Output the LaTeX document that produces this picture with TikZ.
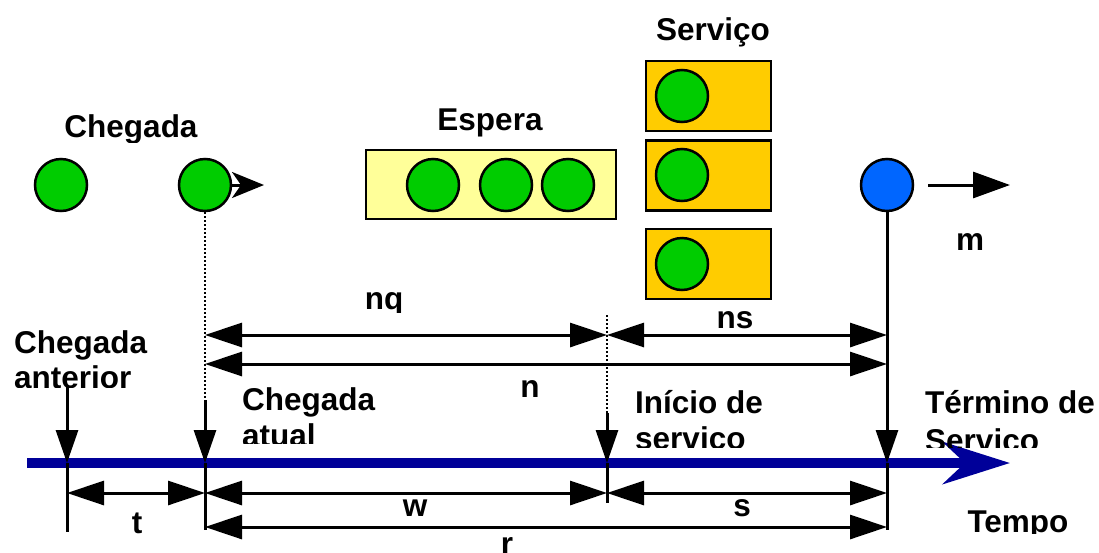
\documentclass[tikz,border=0pt]{standalone}
\usepackage{fontspec}
\setmainfont{Liberation Sans}
\usetikzlibrary{arrows.meta}
\definecolor{ballgreen}{RGB}{0,204,0}
\definecolor{ballblue}{RGB}{0,102,255}
\definecolor{queueyellow}{RGB}{255,255,153}
\definecolor{servyellow}{RGB}{255,204,0}
\definecolor{axisblue}{RGB}{0,0,153}
\begin{document}
\begin{tikzpicture}[x=1pt,y=-1pt,
  lbl/.style={font=\fontsize{31.5}{38}\bfseries\selectfont, inner sep=0pt},
  ball/.style={circle, draw, line width=2.5pt, fill=ballgreen, minimum size=52pt, inner sep=0pt},
  dim/.style={line width=3pt, {Triangle[length=37pt,width=24pt]}-{Triangle[length=37pt,width=24pt]}},
  tickline/.style={line width=3pt},
  downarrow/.style={line width=3pt, -{Triangle[length=33pt,width=22pt]}},
  dotline/.style={line width=2pt, dotted},
  qbox/.style={draw, line width=1.5pt, fill=queueyellow, minimum width=250pt, minimum height=69pt, inner sep=0pt},
  sbox/.style={draw, line width=2.5pt, fill=servyellow, minimum width=125pt, minimum height=70pt, inner sep=0pt}]
\useasboundingbox (0,0) rectangle (1099,552);

% --- Titles
\begin{scope}\clip (0,0) rectangle (1099,142);
  \node[lbl, anchor=base] (tCheg) at (131,137) {Chegada};
\end{scope}
\node[lbl, anchor=base] (tEsp) at (490,130) {Espera};
\node[lbl, anchor=base] (tServ) at (713,40) {Serviço};

% --- Arrivals
\node[ball] (c1) at (61,185) {};
\node[ball] (c2) at (205,185) {};
\coordinate (c2tip) at (264,185);
\draw[line width=3pt, -{Stealth[length=32pt,width=26pt,inset=9pt]}] (c2.east) -- (c2tip);

% --- Queue
\node[qbox] (fila) at (491,184.5) {};
\node[ball] (q1) at (433,185) {};
\node[ball] (q2) at (506,185) {};
\node[ball] (q3) at (568,185) {};

% --- Service
\node[sbox] (s1) at (708.5,96) {};
\node[sbox] (s2) at (708.5,175.5) {};
\node[sbox] (s3) at (708.5,264) {};
\node[ball] (b1) at (682,96) {};
\node[ball] (b2) at (682,175) {};
\node[ball] (b3) at (682,264) {};

% --- Departure
\node[ball, fill=ballblue] (cb) at (887,185) {};
\coordinate (mstart) at (928,185);
\coordinate (mend) at (1010,185);
\draw[line width=3pt, -{Triangle[length=37pt,width=26pt]}] (mstart) -- (mend);
\node[lbl, anchor=base] (tm) at (970,250) {m};

% --- Time axis
\coordinate (ax0) at (27,463);
\coordinate (ax1) at (1010,463);
\draw[axisblue, line width=10pt, -{Stealth[length=67pt,width=42pt,inset=22pt]}] (ax0) -- (ax1);

% vertical coordinates
\coordinate (vA0) at (67,385);  \coordinate (vA1) at (67,463);  \coordinate (vA2) at (67,532);
\coordinate (vB0) at (205,400); \coordinate (vB1) at (205,463); \coordinate (vB2) at (205,530);
\coordinate (vC) at (607,315);  \coordinate (vC0) at (607,413); \coordinate (vC1) at (607,463); \coordinate (vC2) at (607,503);
\coordinate (vD1) at (887,463); \coordinate (vD2) at (887,530);

% verticals
\draw[downarrow] (vA0) -- (vA1);
\draw[tickline] (vA1) -- (vA2);
\draw[dotline] (c2.south) -- (vB0);
\draw[downarrow] (vB0) -- (vB1);
\draw[tickline] (vB1) -- (vB2);
\draw[dotline] (vC) -- (vC0);
\draw[downarrow] (vC0) -- (vC1);
\draw[tickline] (vC1) -- (vC2);
\draw[downarrow] (cb.south) -- (vD1);
\draw[tickline] (vD1) -- (vD2);

% dimension lines
\coordinate (nq0) at (205,335); \coordinate (nq1) at (607,335); \coordinate (nq2) at (887,335);
\coordinate (n0) at (205,364);  \coordinate (n1) at (887,364);
\coordinate (w0) at (67,493); \coordinate (w1) at (205,493); \coordinate (w2) at (607,493); \coordinate (w3) at (887,493);
\coordinate (r0) at (205,527);  \coordinate (r1) at (887,527);
\draw[dim] (nq0) -- (nq1);
\draw[dim] (nq1) -- (nq2);
\draw[dim] (n0) -- (n1);
\draw[dim] (w0) -- (w1);
\draw[dim] (w1) -- (w2);
\draw[dim] (w2) -- (w3);
\draw[dim] (r0) -- (r1);

% dimension labels
\begin{scope}\clip (0,0) rectangle (1099,312);
  \node[lbl, anchor=base] (tnq) at (384,309) {nq};
\end{scope}
\node[lbl, anchor=base] (tns) at (735,328) {ns};
\node[lbl, anchor=base] (tn) at (530,397) {n};
\node[lbl, anchor=base] (tt) at (137,533) {t};
\node[lbl, anchor=base] (tw) at (415,516) {w};
\node[lbl, anchor=base] (ts) at (742,516) {s};
\node[lbl, anchor=base] (tr) at (507,554) {r};

% event labels
\node[lbl, anchor=base west] (tA1) at (14,353) {Chegada};
\begin{scope}\clip (0,0) rectangle (1099,387);
  \node[lbl, anchor=base west] (tA2) at (14,388) {anterior};
\end{scope}
\node[lbl, anchor=base west] (tB1) at (242,410) {Chegada};
\begin{scope}\clip (0,0) rectangle (1099,443);
  \node[lbl, anchor=base west] (tB2) at (242,446) {atual};
\end{scope}
\node[lbl, anchor=base west] (tC1) at (635,413) {Início de};
\begin{scope}\clip (0,0) rectangle (1099,447);
  \node[lbl, anchor=base west] (tC2) at (635,449) {serviço};
\end{scope}
\node[lbl, anchor=base west] (tD1) at (925,413) {Término de};
\begin{scope}\clip (0,0) rectangle (1099,447);
  \node[lbl, anchor=base west] (tD2) at (925,451) {Serviço};
\end{scope}
\begin{scope}\clip (0,0) rectangle (1099,533);
  \node[lbl, anchor=base] (tTempo) at (1018,532) {Tempo};
\end{scope}
\end{tikzpicture}
\end{document}
